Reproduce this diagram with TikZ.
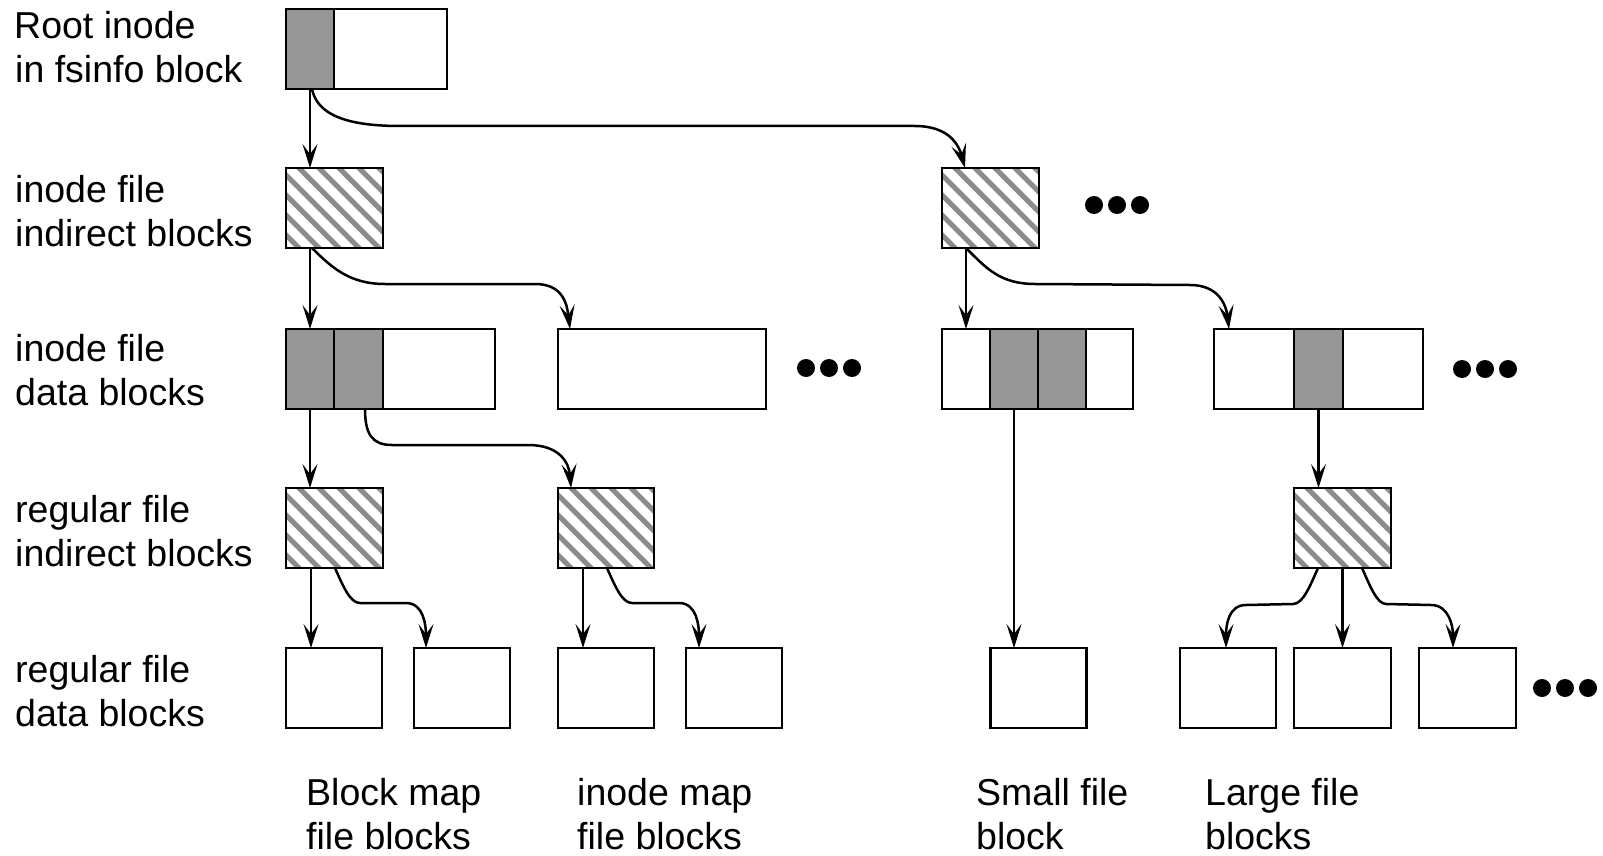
\documentclass[tikz,border=0pt]{standalone}
\usepackage{fontspec}
\setmainfont{Liberation Sans}
\usetikzlibrary{arrows.meta,calc}
\definecolor{cellgray}{RGB}{150,150,150}
\definecolor{hatchgray}{RGB}{140,140,140}
\tikzset{
  cellbox/.style={draw, line width=2.8pt, inner sep=0pt, outer sep=0pt, minimum height=80pt, fill=white},
  greycell/.style={fill=cellgray},
  conn/.style={line width=2.5pt, -{Stealth[length=24pt,width=15pt,inset=10pt]}},
  lbl/.style={anchor=base west, inner sep=0pt, font=\fontsize{37.5}{44}\selectfont},
  boxline/.style={line width=2.8pt},
}
% #1 start, #2 end, #3 ctrl1 rel start, #4 ctrl2 rel start, #5 P1 rel start,
% #6 P2 rel end, #7 ctrl3 rel end, #8 ctrl4 rel end
\newcommand{\hookarrow}[8]{%
  \draw[conn] (#1) .. controls ($(#1)+(#3)$) and ($(#1)+(#4)$) .. ($(#1)+(#5)$)
    -- ($(#2)+(#6)$) .. controls ($(#2)+(#7)$) and ($(#2)+(#8)$) .. (#2);}
\newcommand{\hatchfill}[1]{%
  \begin{scope}
    \clip (#1.north west) rectangle (#1.south east);
    \foreach \hk in {-6,...,6}{
      \draw[hatchgray, line width=5pt] ($(#1.north west)+(\hk*20+8,-5)$) -- ++(140,140);
    }
  \end{scope}
  \draw[boxline] (#1.north west) rectangle (#1.south east);}
\begin{document}
\begin{tikzpicture}[x=1pt, y=-1pt]
\useasboundingbox (0,0) rectangle (1603,856);

% ---- labels ----
\node[lbl] (L1a) at (14,39) {Root inode};
\node[lbl] (L1b) at (15,83) {in fsinfo block};
\node[lbl] (L2a) at (15,202) {inode file};
\node[lbl] (L2b) at (15,246) {indirect blocks};
\node[lbl] (L3a) at (15,361) {inode file};
\node[lbl] (L3b) at (15,405) {data blocks};
\node[lbl] (L4a) at (15,522) {regular file};
\node[lbl] (L4b) at (15,566) {indirect blocks};
\node[lbl] (L5a) at (15,682) {regular file};
\node[lbl] (L5b) at (15,726) {data blocks};

\node[lbl] (B1a) at (306,805) {Block map};
\node[lbl] (B1b) at (306,849) {file blocks};
\node[lbl] (B2a) at (577,805) {inode map};
\node[lbl] (B2b) at (577,849) {file blocks};
\node[lbl] (B3a) at (976,805) {Small file};
\node[lbl] (B3b) at (976,849) {block};
\node[lbl] (B4a) at (1205,805) {Large file};
\node[lbl] (B4b) at (1205,849) {blocks};

% ---- row 1 ----
\node[cellbox, greycell, minimum width=48pt] (r1) at (310,49) {};
\node[cellbox, minimum width=113pt] (r2) at (390.5,49) {};

% ---- row 2 ----
\node[cellbox, minimum width=97pt] (ha) at (334.5,208) {};
\node[cellbox, minimum width=97pt] (hb) at (990.5,208) {};
\hatchfill{ha}
\hatchfill{hb}

% ---- row 3 ----
\node[cellbox, greycell, minimum width=48pt] (d1a) at (310,369) {};
\node[cellbox, greycell, minimum width=49pt] (d1b) at (358.5,369) {};
\node[cellbox, minimum width=112pt] (d1c) at (439,369) {};
\node[cellbox, minimum width=208pt] (d2) at (662,369) {};
\node[cellbox, minimum width=48pt] (d3a) at (966,369) {};
\node[cellbox, greycell, minimum width=48pt] (d3b) at (1014,369) {};
\node[cellbox, greycell, minimum width=48pt] (d3c) at (1062,369) {};
\node[cellbox, minimum width=47pt] (d3d) at (1109.5,369) {};
\node[cellbox, minimum width=80pt] (d4a) at (1254,369) {};
\node[cellbox, greycell, minimum width=49pt] (d4b) at (1318.5,369) {};
\node[cellbox, minimum width=80pt] (d4c) at (1383,369) {};

% ---- row 4 ----
\node[cellbox, minimum width=97pt] (h1) at (334.5,528) {};
\node[cellbox, minimum width=96pt] (h2) at (606,528) {};
\node[cellbox, minimum width=97pt] (h3) at (1342.5,528) {};
\hatchfill{h1}
\hatchfill{h2}
\hatchfill{h3}

% ---- row 5 ----
\node[cellbox, minimum width=96pt] (b1) at (334,688) {};
\node[cellbox, minimum width=96pt] (b2) at (462,688) {};
\node[cellbox, minimum width=96pt] (b3) at (606,688) {};
\node[cellbox, minimum width=96pt] (b4) at (734,688) {};
\node[cellbox, minimum width=96pt] (b5) at (1038.5,688) {};
\node[cellbox, minimum width=96pt] (b6) at (1228,688) {};
\node[cellbox, minimum width=97pt] (b7) at (1342.5,688) {};
\node[cellbox, minimum width=97pt] (b8) at (1467.5,688) {};

% ---- dots ----
\foreach \dx in {806,829,852} \fill (\dx,368) circle (9pt);
\foreach \dx in {1094,1117,1140} \fill (\dx,205) circle (9pt);
\foreach \dx in {1462,1485,1508} \fill (\dx,369) circle (9pt);
\foreach \dx in {1542,1565,1588} \fill (\dx,688) circle (9pt);

% ---- connector end points ----
\coordinate (s2) at ($(r1.south)+(2,0)$);
\coordinate (e2) at ($(hb.north west)+(23,0)$);
\coordinate (s4) at ($(ha.south west)+(26,0)$);
\coordinate (e4) at ($(d2.north west)+(12,0)$);
\coordinate (s6) at ($(hb.south west)+(24,0)$);
\coordinate (e6) at ($(d4a.north west)+(15,0)$);
\coordinate (s8) at ($(d1b.south west)+(31,0)$);
\coordinate (e8) at ($(h2.north west)+(13,0)$);
\coordinate (s11) at ($(h1.south west)+(25,0)$);
\coordinate (e11) at ($(b1.north west)+(25,0)$);
\coordinate (s12) at ($(h1.south west)+(49,0)$);
\coordinate (e12) at ($(b2.north west)+(12,0)$);
\coordinate (s13) at ($(h2.south west)+(25,0)$);
\coordinate (e13) at ($(b3.north west)+(25,0)$);
\coordinate (s14) at ($(h2.south west)+(49,0)$);
\coordinate (e14) at ($(b4.north west)+(13,0)$);
\coordinate (s15) at ($(h3.south west)+(24,0)$);
\coordinate (e15) at ($(b6.north west)+(46,0)$);
\coordinate (s17) at ($(h3.south west)+(68,0)$);
\coordinate (e17) at ($(b8.north west)+(34,0)$);

% ---- straight connectors ----
\draw[conn] (r1.south) -- (r1.south |- ha.north);
\draw[conn] (d1a.north |- ha.south) -- (d1a.north);
\draw[conn] (d3a.north |- hb.south) -- (d3a.north);
\draw[conn] (d1a.south) -- (d1a.south |- h1.north);
\draw[conn] (d3b.south) -- (d3b.south |- b5.north);
\draw[conn] (d4b.south) -- (d4b.south |- h3.north);
\draw[conn] (s11) -- (e11);
\draw[conn] (s13) -- (e13);
\draw[conn] (h3.south) -- (b7.north);

% ---- curved connectors ----
\hookarrow{s2}{e2}{5,25}{33,37}{88,37}{-50,-42}{-15,-42}{-6,-22}
\hookarrow{s4}{e4}{20,20}{38,36}{73,36}{-35,-45}{-7,-45}{-3,-25}
\hookarrow{s6}{e6}{20,20}{34,36}{69,36}{-39,-44}{-11,-44}{-3,-25}
\hookarrow{s8}{e8}{0,25}{7,36}{27,36}{-43,-43}{-11,-43}{-2,-25}
\hookarrow{s12}{e12}{8,18}{15,35}{25,35}{-20,-45}{-2,-45}{0,-22}
\hookarrow{s14}{e14}{8,18}{15,35}{25,35}{-20,-45}{-2,-45}{0,-22}
\hookarrow{s15}{e15}{-8,18}{-15,36}{-25,36}{20,-43}{2,-43}{0,-22}
\hookarrow{s17}{e17}{8,18}{15,36}{24,36}{-22,-43}{-4,-43}{0,-22}
\end{tikzpicture}
\end{document}
